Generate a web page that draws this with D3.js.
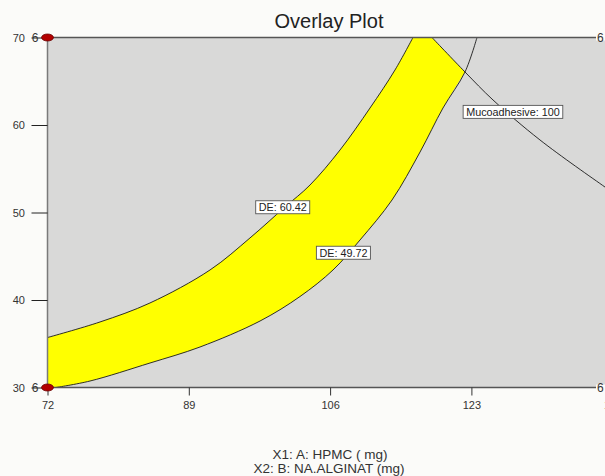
<!DOCTYPE html>
<html>
<head>
<meta charset="utf-8">
<script src="https://cdn.jsdelivr.net/npm/d3@7/dist/d3.min.js"></script>
<style>
  html, body { margin: 0; padding: 0; background: #fbfbf9; }
  svg { display: block; font-family: Arial, "Liberation Sans", sans-serif; }
</style>
</head>
<body>
<svg id="chart" width="605" height="476"></svg>
<script>
// Factor ranges
const xDomain = [72, 140];   // A: HPMC (mg)
const yDomain = [30, 70];    // B: Na-alginate (mg)
const xTicks = [72, 89, 106, 123, 140];
const yTicks = [30, 40, 50, 60, 70];

// Contour DE = 60.42 (upper edge of the sweet spot)
const deHigh = [
  [72.0, 35.71], [78.32, 37.49], [84.33, 39.66], [91.55, 43.43],
  [96.36, 47.09], [100.57, 50.63], [103.58, 53.14], [107.19, 57.14],
  [110.80, 61.94], [113.81, 66.29], [115.97, 70.0]
];
// Contour DE = 49.72 (lower edge of the sweet spot)
const deLow = [
  [73.02, 30.0], [77.11, 30.74], [84.33, 32.8], [90.35, 34.63],
  [97.57, 37.6], [102.38, 40.4], [106.35, 43.43], [109.6, 46.86],
  [113.45, 51.43], [116.82, 56.91], [119.58, 61.94], [122.23, 66.06],
  [123.67, 70.0]
];
// Contour Mucoadhesive = 100
const muco = [
  [118.26, 70.0], [122.23, 66.06], [125.6, 62.86], [131.25, 58.29],
  [139.07, 52.91], [140.0, 52.3]
];
// Index in deLow where it meets the mucoadhesive contour
const crossIdx = 11;

// Contour labels: text and anchor in factor units
const contourLabels = [
  { text: "DE: 60.42", at: [100.3, 50.6] },
  { text: "DE: 49.72", at: [107.6, 45.4] },
  { text: "Mucoadhesive: 100", at: [128.0, 61.5] }
];
// Design points at the factorial corners
const designPoints = [[72, 30], [72, 70], [140, 30], [140, 70]];
const designCounts = ["6", "6", "6", "6"];

const svg = d3.select("#chart");
const pageBg = "#fbfbf9";
const plotLeft = 47.5, plotTop = 37.5, plotBottom = 387.5;
const pxPerX = 141.3 / 17;
const plotRight = plotLeft + (xDomain[1] - xDomain[0]) * pxPerX;

const x = d3.scaleLinear().domain(xDomain).range([plotLeft, plotRight]);
const y = d3.scaleLinear().domain(yDomain).range([plotBottom, plotTop]);

svg.append("defs").append("clipPath").attr("id", "plotClip")
  .append("rect").attr("x", plotLeft).attr("y", plotTop)
  .attr("width", plotRight - plotLeft).attr("height", plotBottom - plotTop);

// Plot background
svg.append("rect").attr("x", plotLeft).attr("y", plotTop)
  .attr("width", plotRight - plotLeft).attr("height", plotBottom - plotTop)
  .attr("fill", "#d9d9d8");

const plot = svg.append("g").attr("clip-path", "url(#plotClip)");

const smooth = d3.line().x(d => x(d[0])).y(d => y(d[1])).curve(d3.curveCatmullRom.alpha(0.5));
const joinPaths = parts => parts.map((p, i) => i === 0 ? p : p.replace(/^M/, "L")).join("") + "Z";

// Sweet-spot region: upper DE edge, top edge, mucoadhesive edge, lower DE edge
const region = joinPaths([
  smooth(deHigh),
  smooth(muco.slice(0, 2)),
  smooth(deLow.slice(0, crossIdx + 1).reverse()),
  smooth([[xDomain[0], yDomain[0]], [xDomain[0], yDomain[0]]])
]);
plot.append("path").attr("d", region).attr("fill", "#ffff00");

// Contour lines
[deHigh, deLow, muco].forEach(c => {
  plot.append("path").attr("d", smooth(c))
    .attr("fill", "none").attr("stroke", "#1a1a1a").attr("stroke-width", 0.9);
});

// Frame
svg.append("line").attr("x1", plotLeft).attr("x2", plotLeft).attr("y1", plotTop).attr("y2", plotBottom)
  .attr("stroke", "#7a7a7a").attr("stroke-width", 1.5);
svg.append("line").attr("x1", plotLeft).attr("x2", plotRight).attr("y1", plotTop).attr("y2", plotTop)
  .attr("stroke", "#555").attr("stroke-width", 1.5);
svg.append("line").attr("x1", plotLeft).attr("x2", plotRight).attr("y1", plotBottom).attr("y2", plotBottom)
  .attr("stroke", "#555").attr("stroke-width", 1.5);

// X axis
const xAxis = d3.axisBottom(x).tickValues(xTicks).tickSize(8).tickPadding(6).tickFormat(d3.format("d"));
const gx = svg.append("g").attr("transform", `translate(0,${plotBottom})`).call(xAxis);
gx.select(".domain").remove();
gx.selectAll("line").attr("stroke", "#333");
gx.selectAll("text").attr("fill", "#333").style("font-size", "11px")
  .style("font-family", "Arial, 'Liberation Sans', sans-serif");

// Y axis
const yAxis = d3.axisLeft(y).tickValues(yTicks).tickSize(16).tickPadding(6.5).tickFormat(d3.format("d"));
const gy = svg.append("g").attr("transform", `translate(${plotLeft},0)`).call(yAxis);
gy.select(".domain").remove();
gy.selectAll("line").attr("stroke", "#222");
gy.selectAll("text").attr("fill", "#333").style("font-size", "11px")
  .style("font-family", "Arial, 'Liberation Sans', sans-serif");

// Design points with replicate counts
designPoints.forEach((p, i) => {
  const cx = x(p[0]), cy = y(p[1]);
  const t = svg.append("text").attr("x", cx - 9).attr("y", cy + 4)
    .attr("text-anchor", "end").attr("fill", "#333").style("font-size", "12px")
    .text(designCounts[i]);
  if (p[0] === xDomain[1]) {
    const bb = t.node().getBBox();
    svg.insert("rect", () => t.node()).attr("x", bb.x - 1).attr("y", cy - 3)
      .attr("width", bb.width + 12).attr("height", 6).attr("fill", pageBg);
  }
  svg.append("ellipse").attr("cx", cx).attr("cy", cy).attr("rx", 6).attr("ry", 3.5)
    .attr("fill", "#b30000").attr("stroke", "#6a0000").attr("stroke-width", 0.8);
});

// Contour labels
contourLabels.forEach(l => {
  const g = svg.append("g").attr("transform", `translate(${x(l.at[0])},${y(l.at[1])})`);
  const txt = g.append("text").attr("text-anchor", "middle").attr("dy", "0.35em")
    .attr("fill", "#222").style("font-size", "10.8px").text(l.text);
  const bb = txt.node().getBBox();
  g.insert("rect", "text").attr("x", bb.x - 3).attr("y", -6.5)
    .attr("width", bb.width + 6).attr("height", 13)
    .attr("fill", "#fff").attr("stroke", "#555").attr("stroke-width", 0.9);
});

// Title
svg.append("text").attr("x", 329).attr("y", 28).attr("text-anchor", "middle")
  .attr("fill", "#222").style("font-size", "20px").text("Overlay Plot");

// Axis titles (two lines)
const axTitle = svg.append("text").attr("text-anchor", "middle")
  .attr("fill", "#333").style("font-size", "13.5px");
axTitle.append("tspan").attr("x", 330).attr("y", 458.5).text("X1: A: HPMC ( mg)");
axTitle.append("tspan").attr("x", 329).attr("y", 472.5).text("X2: B: NA.ALGINAT (mg)");
</script>
</body>
</html>
